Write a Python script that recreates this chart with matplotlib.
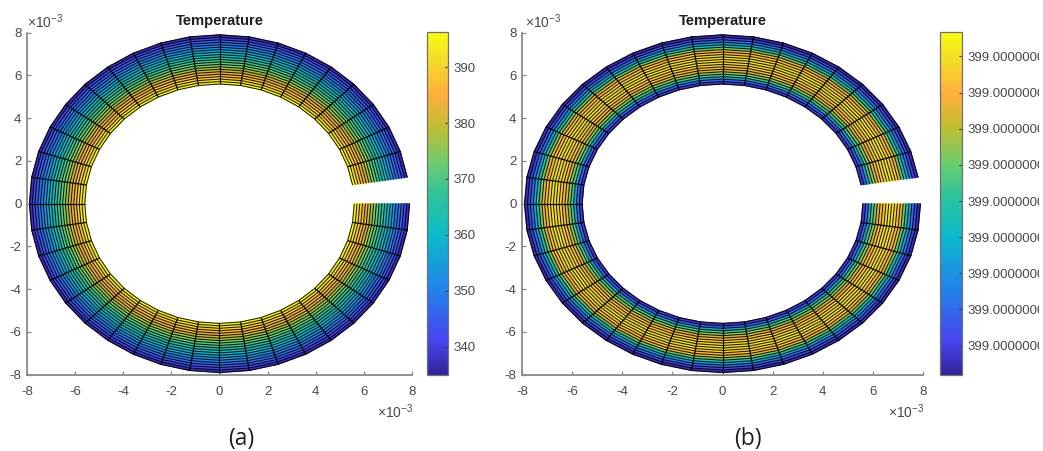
import numpy as np
import matplotlib
matplotlib.use('Agg')
import matplotlib.pyplot as plt
from matplotlib.colors import LinearSegmentedColormap, Normalize
from matplotlib.patches import Rectangle

plt.rcParams['font.family'] = ['Liberation Sans', 'DejaVu Sans']
plt.rcParams['mathtext.default'] = 'regular'
plt.rcParams['axes.unicode_minus'] = False

# figure size in pixels
W, H = 1043, 451

# radius of the mesh rings, inner to outer (x 1e-3)
radii = [5.6, 5.715, 5.83, 5.945, 6.06, 6.175, 6.29, 6.405, 6.52, 6.635, 6.75,
         6.865, 6.98, 7.095, 7.21, 7.325, 7.44, 7.555, 7.67, 7.785, 7.9]
# sector edges in degrees, the ring is open between 0 and 9
sector_step = 9
sector_start = 9
sector_end = 360

# temperature on each ring, case (a)
temp_a = [396, 394, 391, 388, 385, 382, 379, 376, 373, 370, 367,
          364, 361, 358, 355, 352, 349, 346, 343, 339, 335]
lim_a = (334.9, 396.3)
ticks_a = [340, 350, 360, 370, 380, 390]

# case (b), offset from 399 in units of 1e-8
temp_b_off = [-4.62, -3.87, -2.54, -0.35, 0.88, 1.83, 2.78, 3.35, 3.73, 3.92, 4.01,
              3.92, 3.54, 3.06, 2.02, 0.41, -1.02, -2.25, -3.39, -4.25, -4.81]
lim_b_off = (-4.815, 4.677)
ticks_b_off = [-4, -3, -2, -1, 0, 1, 2, 3, 4]

axis_ticks = [-8, -6, -4, -2, 0, 2, 4, 6, 8]

parula_ish = [(0.00, '#32239a'), (0.10, '#4646f0'), (0.25, '#2382eb'),
              (0.40, '#0ab9cd'), (0.52, '#2dc39b'), (0.62, '#6ecd6e'),
              (0.72, '#bebe32'), (0.82, '#ffaf3c'), (0.92, '#f5dc28'),
              (1.00, '#fafa14')]
cmap = LinearSegmentedColormap.from_list('parula_ish', parula_ish, N=256)

GRAY = '#8a8a8a'
TXT = '#484848'


def px_axes(fig, x0, x1, y0, y1):
    # axes from pixel edges, y counted from the top of the image
    return fig.add_axes([x0 / W, 1 - y1 / H, (x1 - x0) / W, (y1 - y0) / H])


def draw_ring(ax, temps, lim):
    th = np.radians(np.arange(sector_start, sector_end + 1, sector_step))
    r = np.array(radii)
    X = np.outer(r, np.cos(th))
    Y = np.outer(r, np.sin(th))
    C = np.outer(np.array(temps), np.ones_like(th))
    norm = Normalize(vmin=lim[0], vmax=lim[1])
    mesh = ax.pcolormesh(X, Y, C, shading='gouraud', cmap=cmap, norm=norm)
    # thin rings
    for i in range(len(r)):
        ax.plot(X[i], Y[i], color='black', lw=0.72, alpha=0.9,
                solid_capstyle='butt', solid_joinstyle='miter')
    # sector lines, not at the two open ends
    for j in range(1, len(th) - 1):
        ax.plot(X[:, j], Y[:, j], color='black', lw=0.85, solid_capstyle='butt')
    ax.set_xlim(-8, 8)
    ax.set_ylim(-8, 8)
    ax.set_xticks(axis_ticks)
    ax.set_yticks(axis_ticks)
    ax.tick_params(direction='in', length=3, width=0.9, color=GRAY,
                   labelcolor=TXT, labelsize=9.5)
    ax.tick_params(axis='x', pad=8)
    ax.tick_params(axis='y', pad=4)
    for s in ['top', 'right']:
        ax.spines[s].set_visible(False)
    for s in ['left', 'bottom']:
        ax.spines[s].set_color(GRAY)
        ax.spines[s].set_linewidth(1.3)
    ax.set_title('Temperature', fontsize=10.6, fontweight='bold',
                 color='#202020', pad=5.5)
    return mesh


def style_cbar(cb):
    cb.outline.set_edgecolor('#707070')
    cb.outline.set_linewidth(0.9)
    cb.ax.tick_params(direction='in', length=2.5, width=0.8, color='#404040',
                      labelcolor=TXT, labelsize=9.5, pad=4)


fig = plt.figure(figsize=(W / 100, H / 100), dpi=100, facecolor='white')

# left panel
ax1 = px_axes(fig, 27, 412, 32.7, 374.7)
m1 = draw_ring(ax1, temp_a, lim_a)
cax1 = px_axes(fig, 427, 448, 32, 375)
cb1 = fig.colorbar(m1, cax=cax1, ticks=ticks_a)
style_cbar(cb1)

# right panel
temp_b = [399 + v * 1e-8 for v in temp_b_off]
lim_b = (399 + lim_b_off[0] * 1e-8, 399 + lim_b_off[1] * 1e-8)
ticks_b = [399 + v * 1e-8 for v in ticks_b_off]
ax2 = px_axes(fig, 522, 923, 32.7, 374.7)
m2 = draw_ring(ax2, temp_b, lim_b)
cax2 = px_axes(fig, 940, 962, 32, 375)
cb2 = fig.colorbar(m2, cax=cax2, ticks=ticks_b, format='%.7f')
style_cbar(cb2)

# exponent labels
exp_txt = r'$\times10^{-3}$'
for x, y in [(27, 22), (525, 22), (377, 412), (888, 412)]:
    fig.text(x / W, 1 - y / H, exp_txt, color=TXT, fontsize=10, va='center', ha='left')

# panel captions
fig.text(241 / W, 1 - 439 / H, '(a)', fontsize=16.5, color='#202020',
         family=['Open Sans', 'DejaVu Sans'], ha='center', va='center')
fig.text(748 / W, 1 - 439 / H, '(b)', fontsize=16.5, color='#202020',
         family=['Open Sans', 'DejaVu Sans'], ha='center', va='center')

# the colorbar labels are cut at the right side of the picture
fig.add_artist(Rectangle((1039 / W, 0), 4 / W, 1, transform=fig.transFigure,
                         facecolor='white', edgecolor='none', zorder=20))

fig.savefig('out.png', dpi=100)
